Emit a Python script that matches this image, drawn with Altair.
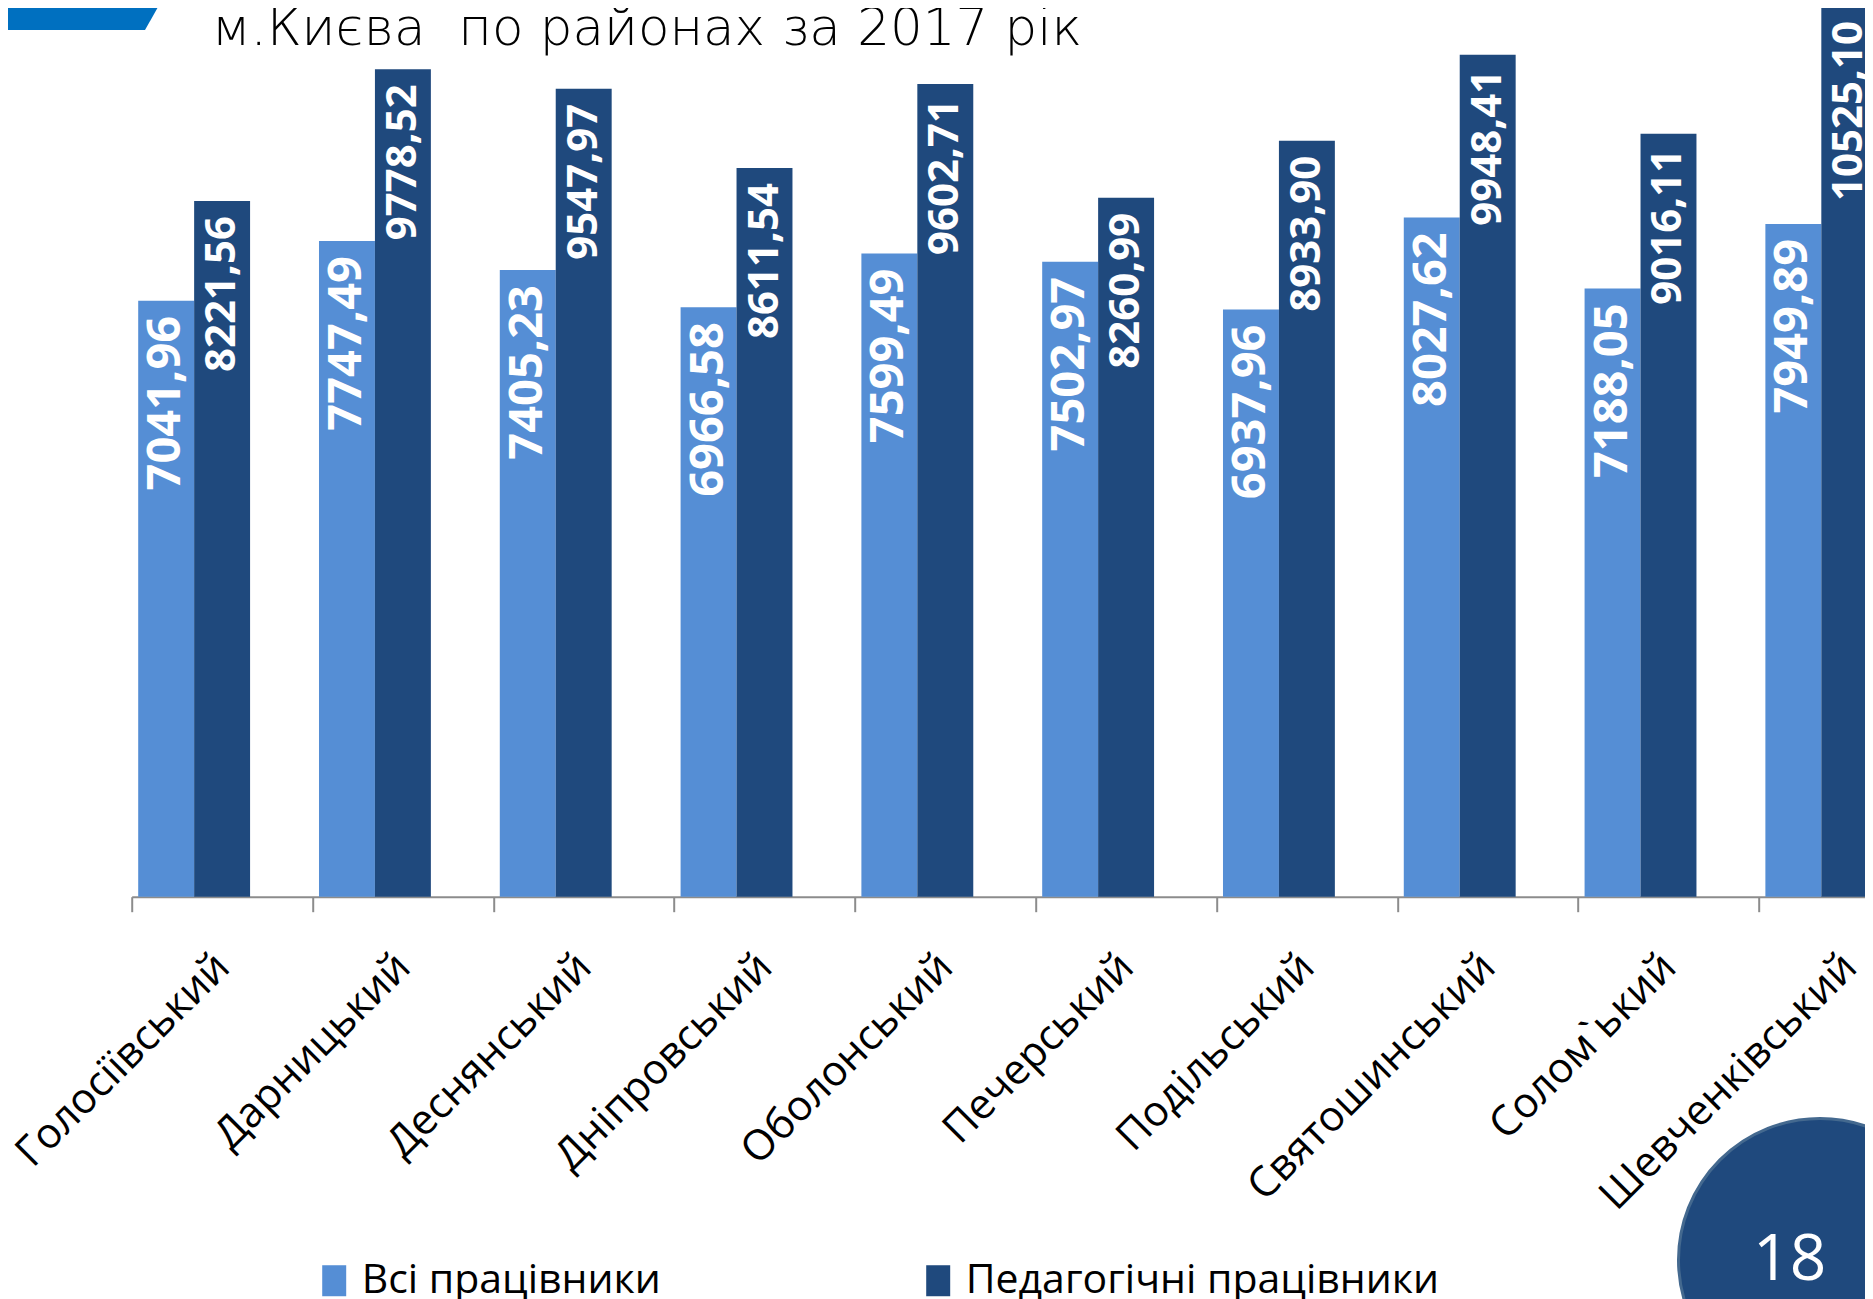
import altair as alt
import pandas as pd

# ---- data ----
districts = ["Голосіївський", "Дарницький", "Деснянський", "Дніпровський", "Оболонський",
             "Печерський", "Подільський", "Святошинський", "Солом`ький", "Шевченківський"]
all_workers = [7041.96, 7747.49, 7405.23, 6966.58, 7599.49, 7502.97, 6937.96, 8027.62, 7188.05, 7949.89]
ped_workers = [8221.56, 9778.52, 9547.97, 8611.54, 9602.71, 8260.99, 8933.90, 9948.41, 9016.11, 10525.10]
series_names = ["Всі працівники", "Педагогічні працівники"]
series_colors = ["#558ED5", "#1F497D"]
title_text = "м.Києва\u00a0 по районах за 2017 рік"
page_number = "18"

rows = []
for d, a, p in zip(districts, all_workers, ped_workers):
    rows.append({"district": d, "series": series_names[0], "value": a,
                 "label": f"{a:.2f}".replace(".", ",")})
    rows.append({"district": d, "series": series_names[1], "value": p,
                 "label": f"{p:.2f}".replace(".", ",")})
df = pd.DataFrame(rows)

LABEL_FONT = "Open Sans"

x_enc = alt.X("district:N", sort=districts, title=None,
              scale=alt.Scale(domain=districts, range=[0, 1808], paddingInner=0, paddingOuter=0,
                              round=False),
              axis=alt.Axis(labelAngle=-45, labelAlign="right", labelBaseline="top",
                            labelFont=LABEL_FONT, labelFontSize=42, labelColor="#000000",
                            labelPadding=34, labelOffset=-14, tickBand="extent", tickSize=15,
                            tickWidth=2, tickColor="#8C8C8C", domainColor="#8C8C8C", domainWidth=2,
                            grid=False, labelOverlap=False, labelLimit=1000))
xoff_enc = alt.XOffset("series:N",
                       scale=alt.Scale(domain=series_names + ["_"], paddingInner=0, paddingOuter=0.116))
y_enc = alt.Y("value:Q", title=None, axis=None,
              scale=alt.Scale(domain=[0, 10502], nice=False, zero=True))

bars = alt.Chart(df).mark_bar(strokeWidth=0).encode(
    x=x_enc, xOffset=xoff_enc, y=y_enc,
    color=alt.Color("series:N",
                    scale=alt.Scale(domain=series_names, range=series_colors),
                    legend=alt.Legend(title=None, orient="none", legendX=182, legendY=1252,
                                      direction="horizontal", columns=2, columnPadding=256,
                                      symbolType="M-0.774,-1L0.774,-1L0.774,1L-0.774,1Z",
                                      symbolSize=961, symbolStrokeWidth=0, symbolOpacity=1,
                                      labelFont=LABEL_FONT, labelFontSize=41, labelColor="#000000",
                                      labelOffset=7, labelLimit=1000, padding=0)),
)

labels = alt.Chart(df).mark_text(angle=270, align="right", baseline="middle", dx=-15,
                                 font=LABEL_FONT, fontWeight="bold", color="white").encode(
    x=alt.X("district:N", sort=districts), xOffset="series:N", y="value:Q",
    text="label:N",
    size=alt.condition(alt.datum.series == series_names[0], alt.value(47), alt.value(42)),
)

deco = alt.Data(values=[{"t": title_text, "n": page_number}])

title = alt.Chart(deco).mark_text(align="left", baseline="alphabetic", font="DejaVu Sans",
                                  fontSize=51.5, fontWeight=200, color="#000000").encode(
    x=alt.value(80), y=alt.value(37), text="t:N")

banner = alt.Chart(deco).mark_point(
    shape="M-1,-1L1,-1L0.79,-0.63L-1,-0.63Z", filled=True, size=26244,
    color="#0070C0", opacity=1, strokeWidth=0).encode(x=alt.value(-50.7), y=alt.value(73))

circle = alt.Chart(deco).mark_point(shape="circle", filled=True, size=80089, color="#1F497D",
                                    opacity=1, stroke="#44698F", strokeWidth=3).encode(
    x=alt.value(1688.3), y=alt.value(1252))

num = alt.Chart(deco).mark_text(align="center", baseline="middle", font=LABEL_FONT,
                                fontSize=64, color="white").encode(
    x=alt.value(1658), y=alt.value(1253), text="n:N")

chart = alt.layer(bars, labels, title, banner, circle, num).properties(
    width=1733.3, height=888.7,
    padding={"left": 123.7, "top": 0, "right": 0, "bottom": 402},
    autosize=alt.AutoSizeParams(type="none"),
    background="white",
).configure_view(stroke=None)

chart.save("out.html", embed_options={"renderer": "svg", "actions": False})
